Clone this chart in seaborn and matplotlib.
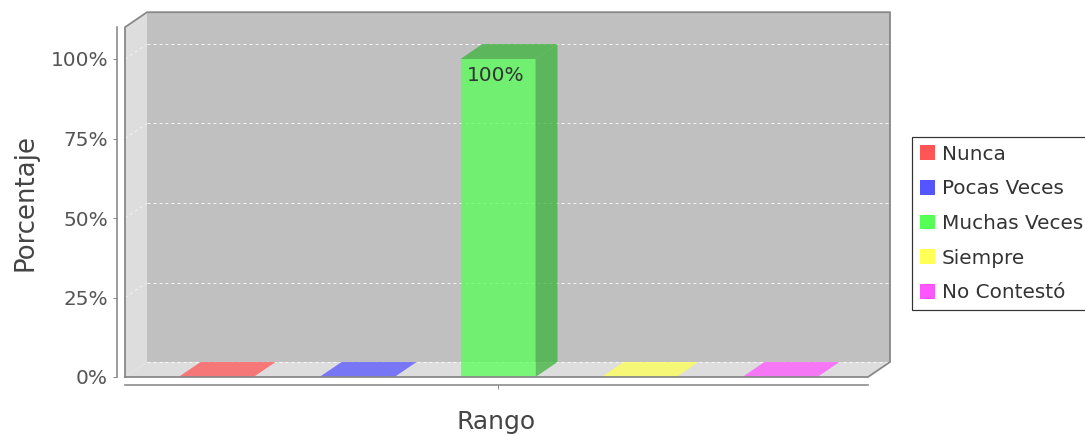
import matplotlib
matplotlib.use("Agg")
import matplotlib.pyplot as plt
import seaborn as sns
import pandas as pd
import numpy as np
from matplotlib.patches import Polygon, Patch

# ---------------- data ----------------
category = [""]
series = ["Nunca", "Pocas Veces", "Muchas Veces", "Siempre", "No Contestó"]
values = [0, 0, 100, 0, 0]
colors = ["#FF5555", "#5555FF", "#55FF55", "#FFFF55", "#FF55FF"]
yticks = [0, 25, 50, 75, 100]
ytick_labels = ["0%", "25%", "50%", "75%", "100%"]
value_labels = ["", "", "100%", "", ""]
x_title = "Rango"
y_title = "Porcentaje"

# ---------------- layout ----------------
sns.set_theme(style="white")
plt.rcParams["font.family"] = ["DejaVu Sans"]

W, H, DPI = 1085, 437, 72
fig = plt.figure(figsize=(W / DPI, H / DPI), dpi=DPI)
fig.patch.set_facecolor("white")

YMAX = 110
PX_PER_Y = 3.18
XL, XR = -0.4234, 0.42
ax_left_px, ax_right_px = 125, 868
ax_bottom_px = H - 377
ax = fig.add_axes([ax_left_px / W, ax_bottom_px / H,
                   (ax_right_px - ax_left_px) / W, YMAX * PX_PER_Y / H])
ax.set_facecolor("none")

df = pd.DataFrame({"cat": category * len(series), "serie": series, "valor": values})
sns.barplot(data=df, x="cat", y="valor", hue="serie", hue_order=series,
            palette=colors, saturation=1, gap=0.468, alpha=0.75,
            errorbar=None, legend=False, ax=ax, zorder=3, linewidth=0)

ax.set_xlim(XL, XR)
ax.set_ylim(0, YMAX)

px_per_x = (ax_right_px - ax_left_px) / (XR - XL)
DX = 22 / px_per_x
DY = 15 / PX_PER_Y

WALL = "#C0C0C0"
SIDE = "#DDDDDD"
OUT = "#888888"

# back wall, left wall, floor
ax.add_patch(Polygon([(XL + DX, DY), (XR + DX, DY), (XR + DX, YMAX + DY), (XL + DX, YMAX + DY)],
                     closed=True, facecolor=WALL, edgecolor="none", zorder=0, clip_on=False))
ax.add_patch(Polygon([(XL, 0), (XL + DX, DY), (XL + DX, YMAX + DY), (XL, YMAX)],
                     closed=True, facecolor=SIDE, edgecolor="none", zorder=0.5, clip_on=False))
ax.add_patch(Polygon([(XL, 0), (XR, 0), (XR + DX, DY), (XL + DX, DY)],
                     closed=True, facecolor=SIDE, edgecolor="none", zorder=0.5, clip_on=False))

# gridlines
for v in yticks:
    ls = (0, (3, 3))
    ax.plot([XL + DX, XR + DX], [v + DY, v + DY], color="white", lw=1, ls=ls,
            alpha=0.85, zorder=1, clip_on=False)
    if v > 0:
        ax.plot([XL, XL + DX], [v, v + DY], color="white", lw=1, ls=ls,
                alpha=0.6, zorder=1, clip_on=False)

# 3D faces of bars
bars = [p for p in ax.patches if p.get_zorder() == 3]
for p, lab in zip(bars, value_labels):
    x0 = p.get_x()
    x1 = x0 + p.get_width()
    h = p.get_height()
    fc = np.array(p.get_facecolor()[:3])
    dark = fc * 0.7
    if h > 0:
        ax.add_patch(Polygon([(x1, 0), (x1 + DX, DY), (x1 + DX, h + DY), (x1, h)],
                             closed=True, facecolor=dark, alpha=0.75, edgecolor="none",
                             zorder=3, clip_on=False))
        ax.add_patch(Polygon([(x0, h), (x1, h), (x1 + DX, h + DY), (x0 + DX, h + DY)],
                             closed=True, facecolor=dark, alpha=0.75, edgecolor="none",
                             zorder=3, clip_on=False))
    else:
        ax.add_patch(Polygon([(x0, 0), (x1, 0), (x1 + DX, DY), (x0 + DX, DY)],
                             closed=True, facecolor=fc, alpha=0.75, edgecolor="none",
                             zorder=3, clip_on=False))
    if lab:
        ax.text((x0 + x1) / 2 - 0.003, h - 2.2, lab, ha="center", va="top",
                fontsize=20, color="#333333", zorder=5)

# outline of the 3D box
ax.plot([XL, XL, XL + DX, XR + DX, XR + DX, XR, XL],
        [0, YMAX, YMAX + DY, YMAX + DY, DY, 0, 0],
        color=OUT, lw=1.8, zorder=6, clip_on=False, solid_joinstyle="miter")

# axes / spines
for s in ["top", "right"]:
    ax.spines[s].set_visible(False)
for s in ["left", "bottom"]:
    ax.spines[s].set_visible(True)
    ax.spines[s].set_position(("outward", 8))
    ax.spines[s].set_color(OUT)
    ax.spines[s].set_linewidth(1.6)

ax.set_yticks(yticks, ytick_labels)
ax.set_xticks([0], category)
ax.tick_params(axis="y", length=4, width=1, color=OUT, labelsize=20,
               labelcolor="#555555", pad=5, left=True)
ax.tick_params(axis="x", length=4, width=1, color=OUT, labelsize=20, bottom=True)
ax.grid(False)

ax.set_ylabel(y_title, fontsize=26, color="#444444", labelpad=12)
ax.set_xlabel(x_title, fontsize=25, color="#444444", labelpad=17)

handles = [Patch(facecolor=c, edgecolor="none") for c in colors]
leg = fig.legend(handles, series, loc="center left",
                 bbox_to_anchor=(912 / W, 1 - 223.5 / H), frameon=True, fancybox=False,
                 edgecolor="black", facecolor="white", fontsize=20,
                 handlelength=0.75, handleheight=0.75, handletextpad=0.35,
                 borderpad=0.4, labelspacing=0.78, borderaxespad=0)
leg.get_frame().set_linewidth(1.2)
for t in leg.get_texts():
    t.set_color("#333333")

fig.savefig("out.png", dpi=DPI, facecolor="white")
